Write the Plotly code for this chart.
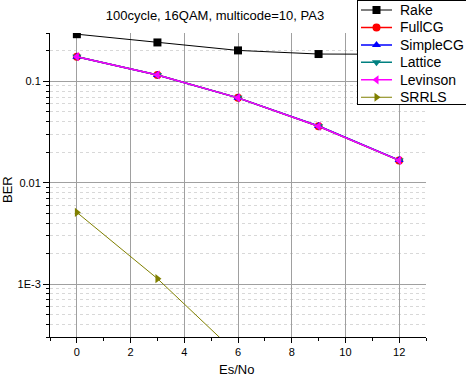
import numpy as np
import plotly.graph_objects as go

x = [0, 3, 6, 9, 12]
rake = [0.292, 0.242, 0.202, 0.186, 0.185]
fullcg = [0.175, 0.1156, 0.0687, 0.0361, 0.0166]
simplecg = [0.175, 0.1156, 0.0687, 0.0362, 0.0167]
lattice = [0.175, 0.1156, 0.0687, 0.0361, 0.0166]
levinson = [0.175, 0.1156, 0.0687, 0.0360, 0.0166]
srrls = [0.00509, 0.00113, 0.0002, 0.00002, 0.000001]

names = ["Rake", "FullCG", "SimpleCG", "Lattice", "Levinson", "SRRLS"]
values = [rake, fullcg, simplecg, lattice, levinson, srrls]
colors = ["black", "red", "blue", "#008080", "magenta", "#808000"]
symbols = ["square", "circle", "triangle-up", "triangle-down", "triangle-left", "triangle-right"]
widths = [1, 1.5, 1.5, 1.5, 1.5, 1]

# figure geometry (pixels)
W, H = 466, 376
PL, PR, PT, PB = 50, 426, 33, 337          # main plot area
LL, LR, LT, LB = 357.7, 465.5, 0.5, 104.3  # legend box
row_y0, row_dy = 10.0, 17.45
line_x0, line_x1, text_x = 361, 392, 398


def fx(px):
    return px / W


def fy(py):
    return (H - py) / H


fig = go.Figure()
for name, ys, col, sym, lw in zip(names, values, colors, symbols, widths):
    fig.add_trace(go.Scatter(x=x, y=ys, name=name, mode="lines+markers",
                             line=dict(color=col, width=lw),
                             marker=dict(symbol=sym, size=8, color=col),
                             showlegend=False, xaxis="x", yaxis="y"))

# legend drawn as its own small subplot (above the main one)
fig.add_trace(go.Scatter(x=[LL, LR, LR, LL, LL], y=[LT, LT, LB, LB, LT], mode="lines",
                         fill="toself", fillcolor="white", line=dict(width=0),
                         xaxis="x2", yaxis="y2", showlegend=False, hoverinfo="skip"))
annotations = []
for i, (name, col, sym, lw) in enumerate(zip(names, colors, symbols, widths)):
    ry = row_y0 + i * row_dy
    fig.add_trace(go.Scatter(x=[line_x0, line_x1], y=[ry, ry], mode="lines",
                             line=dict(color=col, width=lw), xaxis="x2", yaxis="y2",
                             showlegend=False, hoverinfo="skip"))
    fig.add_trace(go.Scatter(x=[(line_x0 + line_x1) / 2], y=[ry], mode="markers",
                             marker=dict(symbol=sym, size=8, color=col), xaxis="x2", yaxis="y2",
                             showlegend=False, hoverinfo="skip"))
    annotations.append(dict(x=text_x, y=ry, xref="x2", yref="y2",
                            text=name, showarrow=False, xanchor="left", yanchor="middle",
                            font=dict(size=14, color="black")))

# axis titles
annotations.append(dict(x=fx(8), y=fy(190), xref="paper", yref="paper", text="BER",
                        textangle=-90, showarrow=False, xanchor="center", yanchor="middle",
                        font=dict(size=13)))
annotations.append(dict(x=fx((PL + PR) / 2 - 2), y=fy(360), xref="paper", yref="paper",
                        text="Es/No", showarrow=False, xanchor="center", yanchor="top",
                        font=dict(size=13)))

minor_vals = []
for e in range(-4, 0):
    for m in range(2, 10):
        minor_vals.append(m * 10.0 ** e)

fig.update_layout(
    width=W, height=H,
    margin=dict(l=0, r=0, t=0, b=0),
    paper_bgcolor="white", plot_bgcolor="white",
    font=dict(family="Liberation Sans, Arial", size=12, color="black"),
    showlegend=False,
    title=dict(text="100cycle, 16QAM, multicode=10, PA3", x=215 / W, xanchor="center",
               y=1 - 15 / H, yanchor="middle", font=dict(size=13)),
    annotations=annotations,
    xaxis=dict(domain=[fx(PL), fx(PR)], range=[-1, 13], tickvals=[0, 2, 4, 6, 8, 10, 12],
               automargin=False, anchor="y",
               showline=True, linecolor="black", linewidth=1,
               ticks="outside", ticklen=5, tickcolor="black",
               showgrid=True, gridcolor="#a0a0a0", gridwidth=1,
               zeroline=False, tickfont=dict(size=11),
               minor=dict(tickvals=[-1, 1, 3, 5, 7, 9, 11, 13], ticks="outside", ticklen=3,
                          tickcolor="black", showgrid=False)),
    yaxis=dict(domain=[fy(PB), fy(PT)], type="log", range=[np.log10(3e-4), np.log10(0.3)],
               automargin=False, anchor="x",
               tickvals=[1e-3, 1e-2, 1e-1], ticktext=["1E-3", "0.01", "0.1"],
               showline=True, linecolor="black", linewidth=1,
               ticks="outside", ticklen=6, tickcolor="black",
               showgrid=True, gridcolor="#a0a0a0", gridwidth=1,
               zeroline=False, tickfont=dict(size=11),
               minor=dict(tickvals=minor_vals, ticks="outside", ticklen=3,
                          tickcolor="black", showgrid=True, gridcolor="#d8d8d8",
                          griddash="dot", gridwidth=1)),
    xaxis2=dict(domain=[fx(LL), fx(LR)], range=[LL, LR], anchor="y2", automargin=False,
                showline=True, mirror=True, linecolor="black", linewidth=1,
                showgrid=False, zeroline=False, showticklabels=False, ticks="",
                fixedrange=True),
    yaxis2=dict(domain=[fy(LB), fy(LT)], range=[LB, LT], anchor="x2", automargin=False,
                showline=True, mirror=True, linecolor="black", linewidth=1,
                showgrid=False, zeroline=False, showticklabels=False, ticks="",
                fixedrange=True),
)

fig.write_html("out.html")
